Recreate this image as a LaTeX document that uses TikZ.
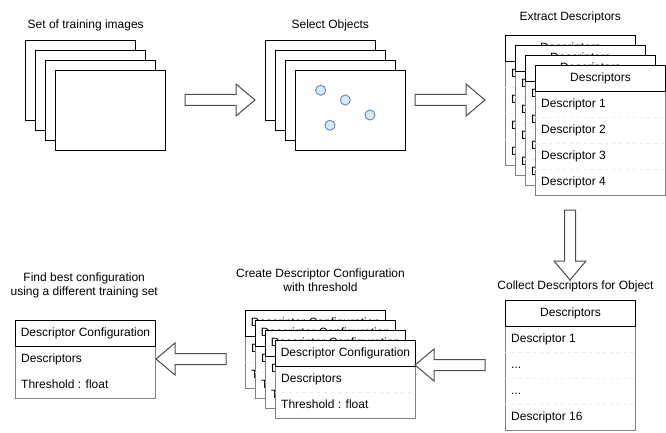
\documentclass[tikz,border=0pt]{standalone}
\usepackage{fontspec}
\setmainfont{Liberation Sans}
\usepackage{xcolor}
\usetikzlibrary{positioning}
\definecolor{objfill}{HTML}{DAE8FC}
\definecolor{objline}{HTML}{6C8EBF}
\tikzset{
  blockarrow/.pic={\path[arrowline] (0,-5.5) -- (51,-5.5) -- (51,-16) -- (70,0) -- (51,16) -- (51,5.5) -- (0,5.5) -- cycle;}
}
\def\dotsrow{...}
% table: [row line style] name, x, y, width, title, number of rows, rows
\newcommand{\desctab}[8][rowline]{%
  \fill[white] (#3,#4) rectangle ++(#5,26+26*#7);
  \draw[bodyline] (#3,#4+26) -- ++(0,26*#7) -- ++(#5,0) -- ++(0,-26*#7);
  \foreach \r [count=\i from 0] in {#8} {
    \ifnum\i>0 \draw[#1] (#3,{#4+26+26*\i}) -- ++(#5,0); \fi
    \node[rowtext] (#2-r\i) at (#3+6,{#4+39+26*\i}) {\r};
  }
  \node[headbox, minimum width=#5pt] (#2) at (#3,#4) {#6};
}

\begin{document}
\begin{tikzpicture}[x=1pt, y=-1pt, font=\fontsize{12}{14}\selectfont,
  imgbox/.style={draw=black, fill=white, line width=1pt, minimum width=110pt, minimum height=80pt, inner sep=0pt, anchor=north west},
  objdot/.style={circle, draw=objline, fill=objfill, line width=1pt, minimum size=10pt, inner sep=0pt},
  headbox/.style={draw=black, fill=white, line width=1pt, minimum height=26pt, inner sep=0pt, anchor=north west, text height=9pt, text depth=2.5pt},
  rowtext/.style={inner sep=0pt, anchor=west, text height=9pt, text depth=2.5pt},
  bodyline/.style={draw=black!50, line width=1pt},
  rowline/.style={draw=black!8, line width=0.8pt, dash pattern=on 3pt off 4pt},
  steptitle/.style={inner sep=0pt, align=center},
  arrowline/.style={draw=black!70, fill=white, line width=1pt}]

    \useasboundingbox (0,0) rectangle (666,433);

    %Titles
    \node[steptitle, anchor=base](train_title) at (85.7,28.6){Set of training images};
    \node[steptitle, anchor=base](select_title) at (330.3,28.6){Select Objects};
    \node[steptitle, anchor=base](extract_title) at (570.3,20.5){Extract Descriptors};
    \node[steptitle, anchor=base](collect_title) at (575.5,289.6){Collect Descriptors for Object};
    \node[steptitle, anchor=north](create_title) at (320.5,269){Create Descriptor Configuration\\with threshold};
    \node[steptitle, anchor=north](best_title) at (84.2,272.5){Find best configuration\\using a different training set};

    %Images
    \foreach \k in {0,...,3} \node[imgbox](img\k) at (25+10*\k,40+10*\k){};
    \foreach \k in {0,...,3} \node[imgbox](sel\k) at (265+10*\k,40+10*\k){};
    \node[objdot](obj1) at (320.7,90.3){};
    \node[objdot](obj2) at (345.3,100){};
    \node[objdot](obj3) at (370,115){};
    \node[objdot](obj4) at (330,125.3){};

    %Tables
    \foreach \k in {0,...,3} \desctab{ext\k}{505+10*\k}{35+10*\k}{130}{Descriptors}{4}{Descriptor 1,Descriptor 2,Descriptor 3,Descriptor 4};
    \desctab{col}{505}{300}{130}{Descriptors}{4}{Descriptor 1,\dotsrow,\dotsrow,Descriptor 16};
    \foreach \k in {0,...,3} \desctab{cfg\k}{245+10*\k}{310+10*\k}{140}{Descriptor Configuration}{2}{Descriptors,Threshold : float};
    \desctab[draw=none]{best}{15}{320}{140}{Descriptor Configuration}{2}{Descriptors,Threshold : float};

    %Arrows
    \pic at (185,100) {blockarrow};
    \pic at (415,100) {blockarrow};
    \pic[rotate=-90] at (570,210) {blockarrow};
    \pic[rotate=180] at (485,365) {blockarrow};
    \pic[rotate=180] at (226,359) {blockarrow};

\end{tikzpicture}
\end{document}
